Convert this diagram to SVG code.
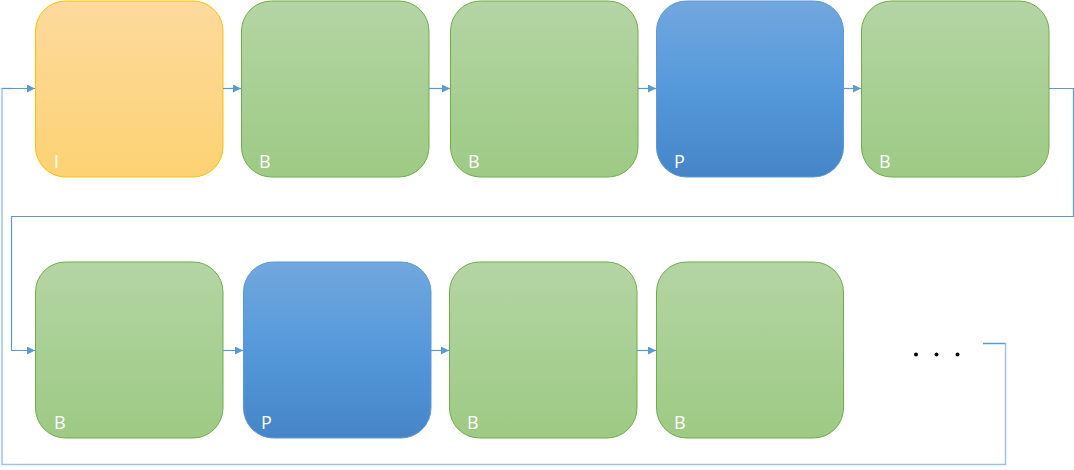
<svg xmlns="http://www.w3.org/2000/svg" width="1074" height="470" viewBox="0 0 1074 470">
<defs>
<linearGradient id="gO" x1="0" y1="0" x2="0" y2="1"><stop offset="0" stop-color="#FDDA9D"/><stop offset="1" stop-color="#FDD273"/></linearGradient>
<linearGradient id="gG" x1="0" y1="0" x2="0" y2="1"><stop offset="0" stop-color="#B4D5A4"/><stop offset="1" stop-color="#9DCA84"/></linearGradient>
<linearGradient id="gB" x1="0" y1="0" x2="0" y2="1"><stop offset="0" stop-color="#71A7DD"/><stop offset="0.5" stop-color="#5599DB"/><stop offset="1" stop-color="#4585C7"/></linearGradient>
<marker id="ah" viewBox="0 0 10 10" refX="10" refY="5" markerWidth="8" markerHeight="8" markerUnits="userSpaceOnUse" orient="auto"><path d="M0,0 L10,5 L0,10 z" fill="#5B9BD5"/></marker>
<style>
.o{fill:url(#gO);stroke:#FFC000;stroke-width:1}
.g{fill:url(#gG);stroke:#70AD47;stroke-width:1}
.b{fill:url(#gB);stroke:#5B9BD5;stroke-width:1}
.lbl{font-family:"Open Sans","Noto Sans",sans-serif;font-size:18px;fill:#FFFFFF}
.c{fill:none;stroke:#5B9BD5;stroke-width:1.2}
.cl{fill:none;stroke:#9DC3E6;stroke-width:1.5}
</style>
</defs>
<g id="n1"><rect class="o" x="35.5" y="1" width="187.5" height="176" rx="30"/><text class="lbl" x="54" y="168">I</text></g>
<g id="n2"><rect class="g" x="241.5" y="1" width="187.5" height="176" rx="30"/><text class="lbl" x="259" y="168">B</text></g>
<g id="n3"><rect class="g" x="450.5" y="1" width="187.5" height="176" rx="30"/><text class="lbl" x="468" y="168">B</text></g>
<g id="n4"><rect class="b" x="656.5" y="1" width="187" height="176" rx="30"/><text class="lbl" x="674" y="168">P</text></g>
<g id="n5"><rect class="g" x="861.5" y="1" width="187.5" height="176" rx="30"/><text class="lbl" x="879" y="168">B</text></g>
<g id="n6"><rect class="g" x="35.5" y="262" width="187.5" height="176" rx="30"/><text class="lbl" x="54" y="429">B</text></g>
<g id="n7"><rect class="b" x="243.5" y="262" width="187.5" height="176" rx="30"/><text class="lbl" x="261" y="429">P</text></g>
<g id="n8"><rect class="g" x="449.5" y="262" width="187.5" height="176" rx="30"/><text class="lbl" x="467" y="429">B</text></g>
<g id="n9"><rect class="g" x="656.5" y="262" width="187" height="176" rx="30"/><text class="lbl" x="674" y="429">B</text></g>
<g id="ellipsis" fill="#000"><circle cx="916" cy="354.5" r="2"/><circle cx="936.5" cy="354.5" r="2"/><circle cx="957.5" cy="354.5" r="2"/></g>
<g id="connectors">
<path class="c" d="M223,88.5 H241" marker-end="url(#ah)"/>
<path class="c" d="M429,88.5 H450" marker-end="url(#ah)"/>
<path class="c" d="M638,88.5 H656" marker-end="url(#ah)"/>
<path class="c" d="M843.5,88.5 H861" marker-end="url(#ah)"/>
<path class="c" d="M1049,88.5 H1073.5 V216.5 H11.5 V350.5 H35" marker-end="url(#ah)"/>
<path class="c" d="M223,350.5 H243" marker-end="url(#ah)"/>
<path class="c" d="M431,350.5 H449" marker-end="url(#ah)"/>
<path class="c" d="M637,350.5 H656" marker-end="url(#ah)"/>
<path class="cl" d="M983,343.5 H1005.5 V464.5 H2 V88.5 H12"/>
<path class="c" d="M983,343.5 H1005"/>
<path class="c" d="M2,88.5 H35" marker-end="url(#ah)"/>
</g>
</svg>
